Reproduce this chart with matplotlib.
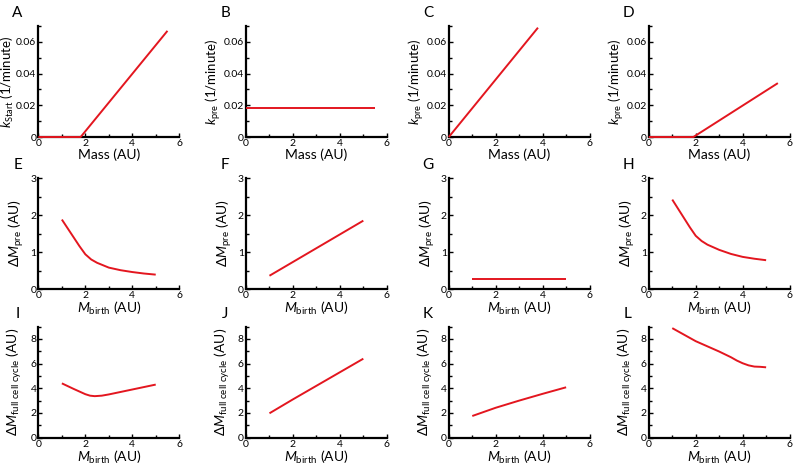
import matplotlib
matplotlib.use('Agg')
import matplotlib.pyplot as plt
from matplotlib.ticker import MultipleLocator, FuncFormatter

plt.rcParams['font.family'] = ['Lato', 'DejaVu Sans']
plt.rcParams['mathtext.fontset'] = 'custom'
plt.rcParams['mathtext.rm'] = 'Lato'
plt.rcParams['mathtext.it'] = 'Lato:italic'

# row 1: rate vs mass
mass_A = [0, 1.8, 5.5]
k_A = [0, 0, 0.067]
mass_B = [0, 5.5]
k_B = [0.018, 0.018]
mass_C = [0, 3.8]
k_C = [0, 0.069]
mass_D = [0, 1.9, 5.5]
k_D = [0, 0, 0.034]

# row 2: delta M pre vs M birth
mb_E = [1, 1.25, 1.5, 1.75, 2, 2.25, 2.5, 3, 3.5, 4, 4.5, 5]
dm_E = [1.88, 1.64, 1.40, 1.16, 0.94, 0.80, 0.71, 0.58, 0.51, 0.46, 0.42, 0.39]
mb_F = [1, 5]
dm_F = [0.36, 1.85]
mb_G = [1, 5]
dm_G = [0.26, 0.26]
mb_H = [1, 1.25, 1.5, 1.75, 2, 2.25, 2.5, 3, 3.5, 4, 4.5, 5]
dm_H = [2.42, 2.17, 1.92, 1.67, 1.44, 1.30, 1.20, 1.06, 0.95, 0.87, 0.82, 0.78]

# row 3: delta M full cycle vs M birth
mb_I = [1, 1.5, 2, 2.2, 2.4, 2.7, 3, 3.5, 4, 4.5, 5]
dm_I = [4.40, 3.95, 3.52, 3.40, 3.36, 3.40, 3.50, 3.70, 3.90, 4.10, 4.30]
mb_J = [1, 2, 3, 4, 5]
dm_J = [1.97, 3.10, 4.20, 5.30, 6.40]
mb_K = [1, 2, 3, 4, 5]
dm_K = [1.75, 2.42, 3.00, 3.55, 4.08]
mb_L = [1, 1.5, 2, 2.5, 3, 3.5, 3.75, 4, 4.25, 4.5, 4.75, 5]
dm_L = [8.88, 8.35, 7.82, 7.40, 6.98, 6.52, 6.25, 6.03, 5.86, 5.76, 5.74, 5.70]

red = '#e3161f'
lefts = [0.048, 0.3075, 0.561, 0.811]
bottoms = [0.7085, 0.385, 0.069]
width, height = 0.176, 0.236
ylab_x = [-0.16, -0.085, -0.10]

panels = [
    ('A', 0, 0, mass_A, k_A), ('B', 0, 1, mass_B, k_B),
    ('C', 0, 2, mass_C, k_C), ('D', 0, 3, mass_D, k_D),
    ('E', 1, 0, mb_E, dm_E), ('F', 1, 1, mb_F, dm_F),
    ('G', 1, 2, mb_G, dm_G), ('H', 1, 3, mb_H, dm_H),
    ('I', 2, 0, mb_I, dm_I), ('J', 2, 1, mb_J, dm_J),
    ('K', 2, 2, mb_K, dm_K), ('L', 2, 3, mb_L, dm_L),
]

fig = plt.figure(figsize=(8, 4.7), dpi=100)

def zero_fmt(v, pos):
    if abs(v) < 1e-9:
        return '0'
    return ('%.2f' % v) if v < 1 else ('%g' % v)

for letter, r, c, xs, ys in panels:
    ax = fig.add_axes([lefts[c], bottoms[r], width, height])
    ax.plot(xs, ys, color=red, lw=1.4, solid_capstyle='butt', clip_on=False, zorder=3)
    ax.set_xlim(0, 6)
    ax.xaxis.set_major_locator(MultipleLocator(2))
    ax.xaxis.set_minor_locator(MultipleLocator(1))
    if r == 0:
        ax.set_ylim(0, 0.07)
        ax.yaxis.set_major_locator(MultipleLocator(0.02))
        ax.yaxis.set_minor_locator(MultipleLocator(0.01))
        ax.yaxis.set_major_formatter(FuncFormatter(zero_fmt))
        sub = r'\mathrm{Start}' if letter == 'A' else r'\mathrm{pre}'
        ax.set_ylabel(r'$k_{%s}$ (1/minute)' % sub, fontsize=9.5)
        ax.set_xlabel('Mass (AU)', fontsize=10, labelpad=0)
    elif r == 1:
        ax.set_ylim(0, 3)
        ax.yaxis.set_major_locator(MultipleLocator(1))
        ax.yaxis.set_minor_locator(MultipleLocator(0.5))
        ax.set_ylabel(r'$\Delta M_{\mathrm{pre}}$ (AU)', fontsize=10)
        ax.set_xlabel(r'$M_{\mathrm{birth}}$ (AU)', fontsize=10, labelpad=0)
    else:
        ax.set_ylim(0, 9)
        ax.yaxis.set_major_locator(MultipleLocator(2))
        ax.yaxis.set_minor_locator(MultipleLocator(1))
        ax.set_ylabel(r'$\Delta M_{\mathrm{full\ cell\ cycle}}$ (AU)', fontsize=10)
        ax.set_xlabel(r'$M_{\mathrm{birth}}$ (AU)', fontsize=10, labelpad=0)
    ax.yaxis.set_label_coords(ylab_x[r], 0.5)
    for s in ['top', 'right']:
        ax.spines[s].set_visible(False)
    for s in ['left', 'bottom']:
        ax.spines[s].set_linewidth(1.6)
    ax.tick_params(which='both', direction='in', width=1.0, labelsize=7.5, pad=1.5)
    ax.tick_params(which='major', length=3)
    ax.tick_params(which='minor', length=2.5)
    fig.text(lefts[c] - 0.026, bottoms[r] + height + 0.027, letter,
             fontsize=11, ha='center', va='center')

fig.savefig('out.png', dpi=100)
